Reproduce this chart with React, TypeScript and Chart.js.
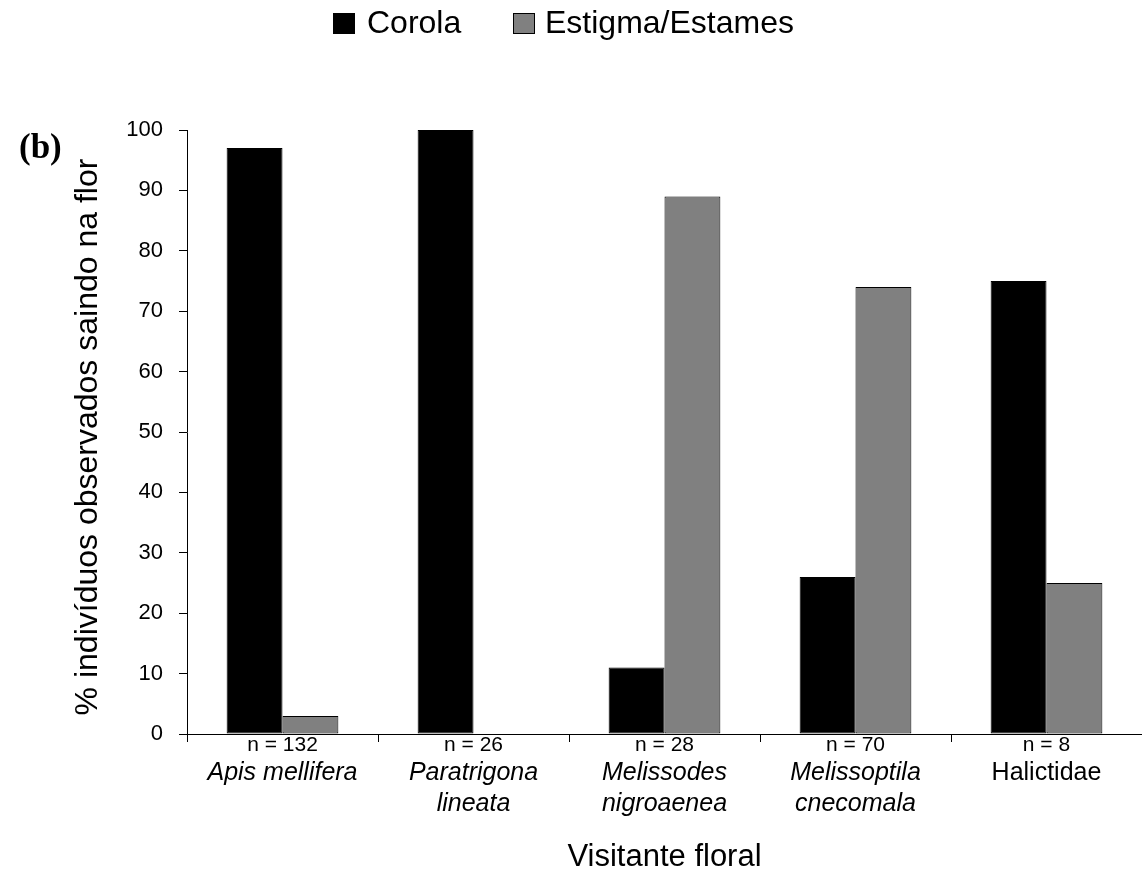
import React, { useEffect, useRef } from "react";
import { Chart, registerables } from "chart.js";

Chart.register(...registerables);

const categories = ["Apis mellifera", "Paratrigona lineata", "Melissodes nigroaenea", "Melissoptila cnecomala", "Halictidae"];
const nLabels = ["n = 132", "n = 26", "n = 28", "n = 70", "n = 8"];
const nameLines = [["Apis mellifera"], ["Paratrigona", "lineata"], ["Melissodes", "nigroaenea"], ["Melissoptila", "cnecomala"], ["Halictidae"]];
const nameItalic = [true, true, true, true, false];
const corola = [97, 100, 11, 26, 75];
const estigma = [3, 0, 89, 74, 25];
const yTicks = [0, 10, 20, 30, 40, 50, 60, 70, 80, 90, 100];

const FONT = "'Liberation Sans', Arial, sans-serif";

const overlay = {
  id: "overlay",
  afterDraw(chart: any) {
    const ctx = chart.ctx;
    const xs = chart.scales.x;
    ctx.save();
    ctx.fillStyle = "#000";
    ctx.textAlign = "center";
    ctx.textBaseline = "middle";
    for (let i = 0; i < categories.length; i++) {
      const x = xs.getPixelForValue(i);
      ctx.font = `21px ${FONT}`;
      ctx.fillText(nLabels[i], x, 745);
      ctx.font = `${nameItalic[i] ? "italic " : ""}25px ${FONT}`;
      nameLines[i].forEach((ln, k) => ctx.fillText(ln, x, 773 + k * 31));
    }
    // x title
    ctx.font = `31px ${FONT}`;
    ctx.fillText("Visitante floral", (chart.chartArea.left + chart.chartArea.right) / 2, 857);
    // y title
    ctx.save();
    ctx.translate(88, 437);
    ctx.rotate(-Math.PI / 2);
    ctx.font = `32px ${FONT}`;
    ctx.fillText("% indivíduos observados saindo na flor", 0, 0);
    ctx.restore();
    // (b)
    ctx.font = `bold 35px 'Liberation Serif', 'Times New Roman', serif`;
    ctx.textAlign = "left";
    ctx.fillText("(b)", 19, 149);
    // legend
    const items = chart.data.datasets.map((d: any) => ({ label: d.label, color: d.backgroundColor }));
    const pos = [[333, 367], [513, 545]];
    ctx.font = `32px ${FONT}`;
    items.forEach((it: any, k: number) => {
      ctx.fillStyle = it.color;
      ctx.fillRect(pos[k][0], 13, 21, 20);
      ctx.strokeStyle = "#000";
      ctx.lineWidth = 1;
      ctx.strokeRect(pos[k][0] + 0.5, 13.5, 21, 20);
      ctx.fillStyle = "#000";
      ctx.textAlign = "left";
      ctx.fillText(it.label, pos[k][1], 24);
    });
    ctx.restore();
  },
};

export default function App() {
  const ref = useRef<HTMLCanvasElement>(null);
  useEffect(() => {
    document.body.style.margin = "0";
    const chart = new Chart(ref.current!, {
      type: "bar",
      data: {
        labels: categories,
        datasets: [
          { label: "Corola", data: corola, backgroundColor: "#000000", borderColor: "#000000", borderWidth: 1, borderSkipped: false, categoryPercentage: 0.585, barPercentage: 1 },
          { label: "Estigma/Estames", data: estigma, backgroundColor: "#808080", borderColor: "#000000", borderWidth: 1, borderSkipped: false, categoryPercentage: 0.585, barPercentage: 1 },
        ],
      },
      options: {
        responsive: false,
        animation: false,
        layout: { padding: { top: 130, left: 0, right: 0, bottom: 0 } },
        plugins: { legend: { display: false }, tooltip: { enabled: false } },
        scales: {
          x: {
            offset: true,
            grid: { display: true, offset: true, drawOnChartArea: false, drawTicks: true, tickLength: 8, color: "#000" },
            border: { display: true, color: "#000", width: 1 },
            ticks: { display: false },
            afterFit: (s: any) => { s.height = 141; },
          },
          y: {
            min: 0,
            max: 100,
            afterBuildTicks: (s: any) => { s.ticks = yTicks.map((v) => ({ value: v })); },
            grid: { display: true, drawOnChartArea: false, drawTicks: true, tickLength: 8, color: "#000" },
            border: { display: true, color: "#000", width: 1 },
            ticks: { color: "#000", font: { family: FONT, size: 22 }, padding: 16 },
            afterFit: (s: any) => { s.width = 187; },
          },
        },
      },
      plugins: [overlay],
    });
    return () => chart.destroy();
  }, []);
  return (
    <div style={{ width: 1142, height: 875 }}>
      <canvas ref={ref} width={1142} height={875} />
    </div>
  );
}
